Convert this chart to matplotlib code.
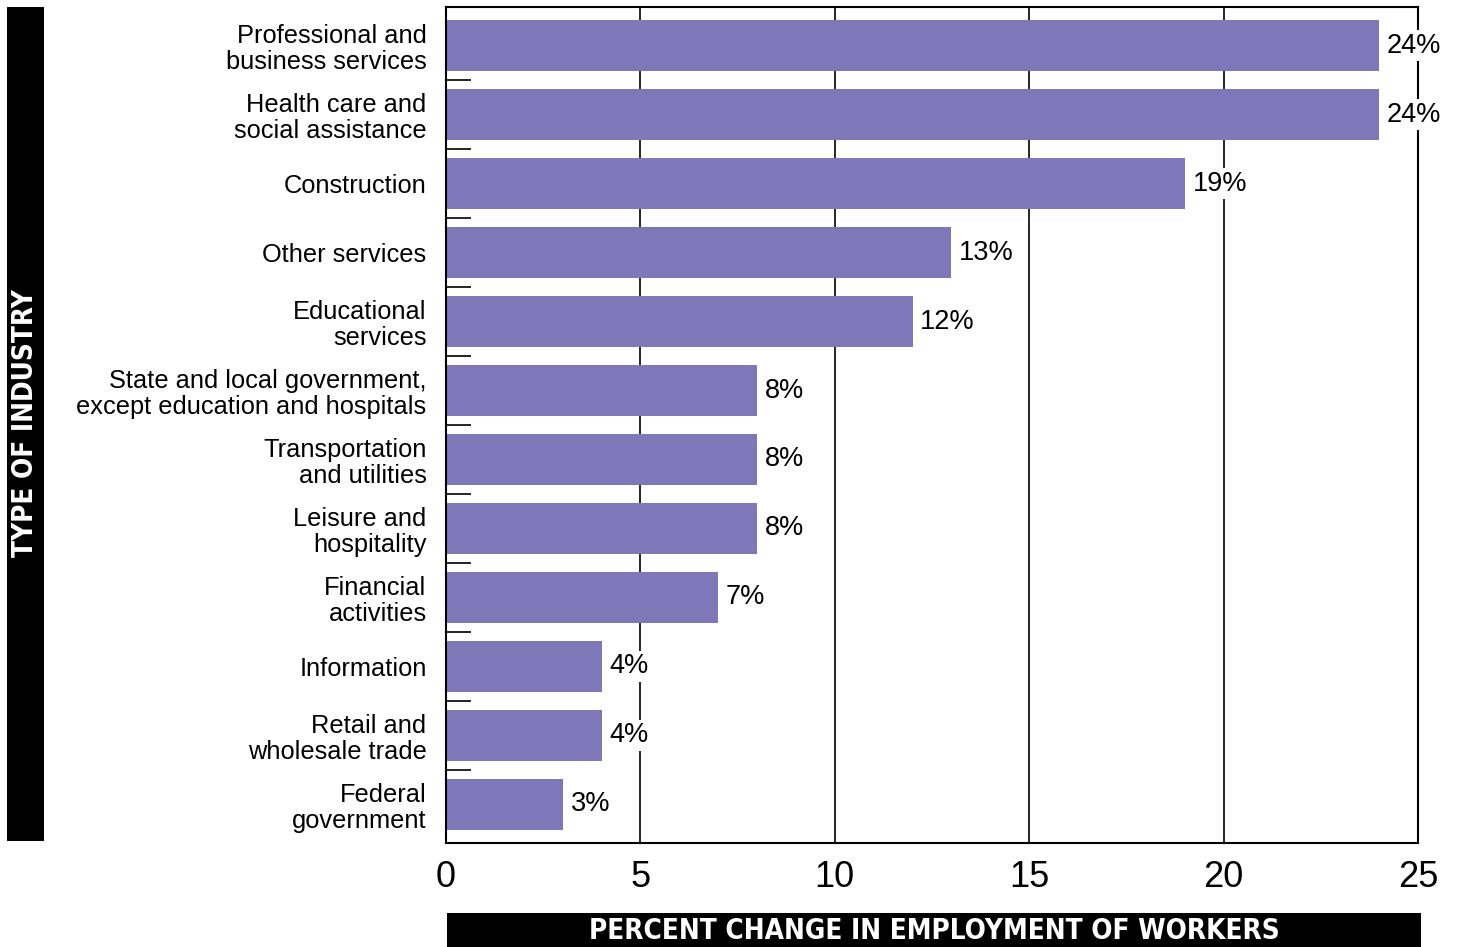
import numpy as np
import matplotlib.pyplot as plt
from matplotlib.patches import Rectangle

industrias = ['Professional and\nbusiness services', 'Health care and\nsocial assistance',
              'Construction', 'Other services', 'Educational\nservices',
              'State and local government,\nexcept education and hospitals',
              'Transportation\nand utilities', 'Leisure and\nhospitality',
              'Financial\nactivities', 'Information', 'Retail and\nwholesale trade',
              'Federal\ngovernment']
cambio = [24, 24, 19, 13, 12, 8, 8, 8, 7, 4, 4, 3]
etiquetas = ['24%', '24%', '19%', '13%', '12%', '8%', '8%', '8%', '7%', '4%', '4%', '3%']
ticks_x = [0, 5, 10, 15, 20, 25]

plt.rcParams['font.family'] = ['Liberation Sans', 'DejaVu Sans']

fig = plt.figure(figsize=(14.59, 9.47), dpi=100)
ax = fig.add_axes([446/1459, 1 - 843/947, (1418 - 446)/1459, (843 - 7)/947])

y = np.arange(len(industrias))
ax.barh(y, cambio, height=0.74, color='#7f78b8', zorder=2)

for i in range(len(cambio)):
    ax.text(cambio[i] + 0.2, y[i], etiquetas[i], va='center', ha='left', fontsize=19.5,
            zorder=4, bbox=dict(facecolor='white', edgecolor='none', pad=1.5))

ax.set_xlim(0, 25)
ax.set_ylim(len(industrias) - 0.5 + 0.06, -0.5 - 0.06)
ax.set_xticks(ticks_x)
ax.set_xticklabels([str(t) for t in ticks_x], fontsize=26)
ax.tick_params(axis='x', length=0, pad=12)
ax.set_yticks(y)
ax.set_yticklabels(industrias, fontsize=18.3, linespacing=1.1)
ax.tick_params(axis='y', which='major', length=0, pad=14)
ax.set_yticks(y[:-1] + 0.5, minor=True)
ax.tick_params(axis='y', which='minor', direction='in', length=18, width=1.2)

ax.grid(axis='x', color='black', linewidth=1.2, zorder=1)
ax.set_axisbelow(True)
for s in ax.spines.values():
    s.set_linewidth(1.5)

## Etiqueta eje y en caja negra
fig.patches.append(Rectangle((7/1459, 1 - 841/947), 37/1459, 834/947,
                             transform=fig.transFigure, facecolor='black', edgecolor='none'))
fig.text(25.5/1459, 1 - 423/947, 'TYPE OF INDUSTRY', rotation=90, color='white',
         fontsize=20, fontweight='bold', fontstretch='condensed', family=['DejaVu Sans'],
         ha='center', va='center')

## Etiqueta eje x en caja negra
fig.patches.append(Rectangle((447/1459, 0), 974/1459, 34/947,
                             transform=fig.transFigure, facecolor='black', edgecolor='none'))
fig.text(934/1459, 16/947, 'PERCENT CHANGE IN EMPLOYMENT OF WORKERS', color='white',
         fontsize=20, fontweight='bold', fontstretch='condensed', family=['DejaVu Sans'],
         ha='center', va='center')

plt.savefig('out.png', dpi=100)
